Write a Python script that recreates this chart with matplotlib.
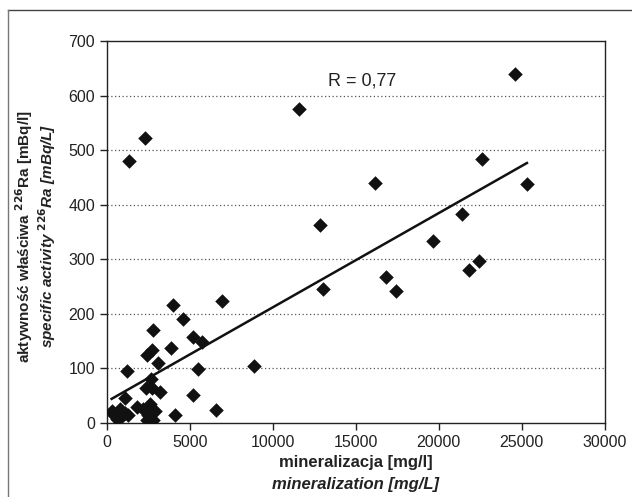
"""
Ra-226 vs mineralizacja - wykres rozrzutu z linią trendu
"""

import matplotlib
matplotlib.use("Agg")
import matplotlib.pyplot as plt
from matplotlib.lines import Line2D
import numpy as np

plt.rcParams["font.family"] = ["Liberation Sans", "DejaVu Sans"]

# mineralizacja [mg/l]
mineralization = [
    1311, 2304, 11607, 24567, 22600, 16152, 25307, 21395, 12833, 19627,
    13036, 16795, 17434, 22397, 21831, 3964, 4572, 6940, 2760, 5180,
    5760, 3861, 2400, 2700, 3100, 1230, 5506, 8840, 2640, 2355,
    2700, 3200, 5200, 1100, 1800, 2600, 2200, 2900, 4100, 6590,
    2400, 2800, 2500, 290, 400, 700, 900, 1100, 600, 1300,
    800, 450,
]
# aktywność 226Ra [mBq/l]
activity = [
    480, 522, 576, 640, 484, 441, 438, 383, 363, 334,
    245, 267, 242, 298, 280, 217, 191, 223, 171, 157,
    148, 138, 125, 133, 110, 96, 99, 105, 81, 64,
    64, 56, 52, 45, 30, 35, 25, 22, 14, 24,
    5, 5, 15, 22, 18, 20, 12, 18, 8, 15,
    25, 15,
]

trend_slope = 0.0173
trend_intercept = 39.2
r_label = "R = 0,77"

xticks = [0, 5000, 10000, 15000, 20000, 25000, 30000]
yticks = [0, 100, 200, 300, 400, 500, 600, 700]

x = np.array(mineralization, dtype=float)
y = np.array(activity, dtype=float)
xl = np.array([x.min(), x.max()])

fig = plt.figure(figsize=(6.32, 4.97), dpi=100)
ax = fig.add_axes([0.169, 0.149, 0.788, 0.7675])

ax.scatter(x, y, marker="D", s=55, color="#111111", linewidths=0, zorder=3)
ax.plot(xl, trend_slope * xl + trend_intercept, color="#111111", linewidth=1.8, zorder=4)

ax.set_xlim(0, 30000)
ax.set_ylim(0, 700)
ax.set_xticks(xticks)
ax.set_yticks(yticks)
for yv in yticks[1:-1]:
    ax.axhline(yv, color="#555555", linestyle=(0, (1, 2)), linewidth=0.9, zorder=1)

ax.tick_params(direction="out", length=5, width=1, labelsize=11.5, colors="#222222")
for sp in ax.spines.values():
    sp.set_linewidth(1)
    sp.set_color("#222222")

ax.text(15400, 627, r_label, fontsize=13, ha="center", va="center", color="#222222")

fig.text(0.563, 0.0704, "mineralizacja [mg/l]", ha="center", va="center",
         fontsize=12, fontweight="bold", color="#222222")
fig.text(0.563, 0.026, "mineralization [mg/L]", ha="center", va="center",
         fontsize=12, fontweight="bold", fontstyle="italic", color="#222222")

fig.text(0.039, 0.525, "aktywność właściwa $^{\\mathbf{226}}$Ra [mBq/l]", rotation=90,
         ha="center", va="center", fontsize=11, fontweight="bold", color="#222222")
fig.text(0.075, 0.525, "specific activity $^{\\mathbf{226}}$Ra [mBq/L]", rotation=90,
         ha="center", va="center", fontsize=11, fontweight="bold", fontstyle="italic",
         color="#222222")

# ramka wokół rysunku (tylko góra i lewa strona)
fig.add_artist(Line2D([0.013, 1.0], [0.979, 0.979], transform=fig.transFigure,
                      color="#444444", linewidth=1))
fig.add_artist(Line2D([0.013, 0.013], [0.0, 0.979], transform=fig.transFigure,
                      color="#777777", linewidth=1))

fig.savefig("out.png", dpi=100)
